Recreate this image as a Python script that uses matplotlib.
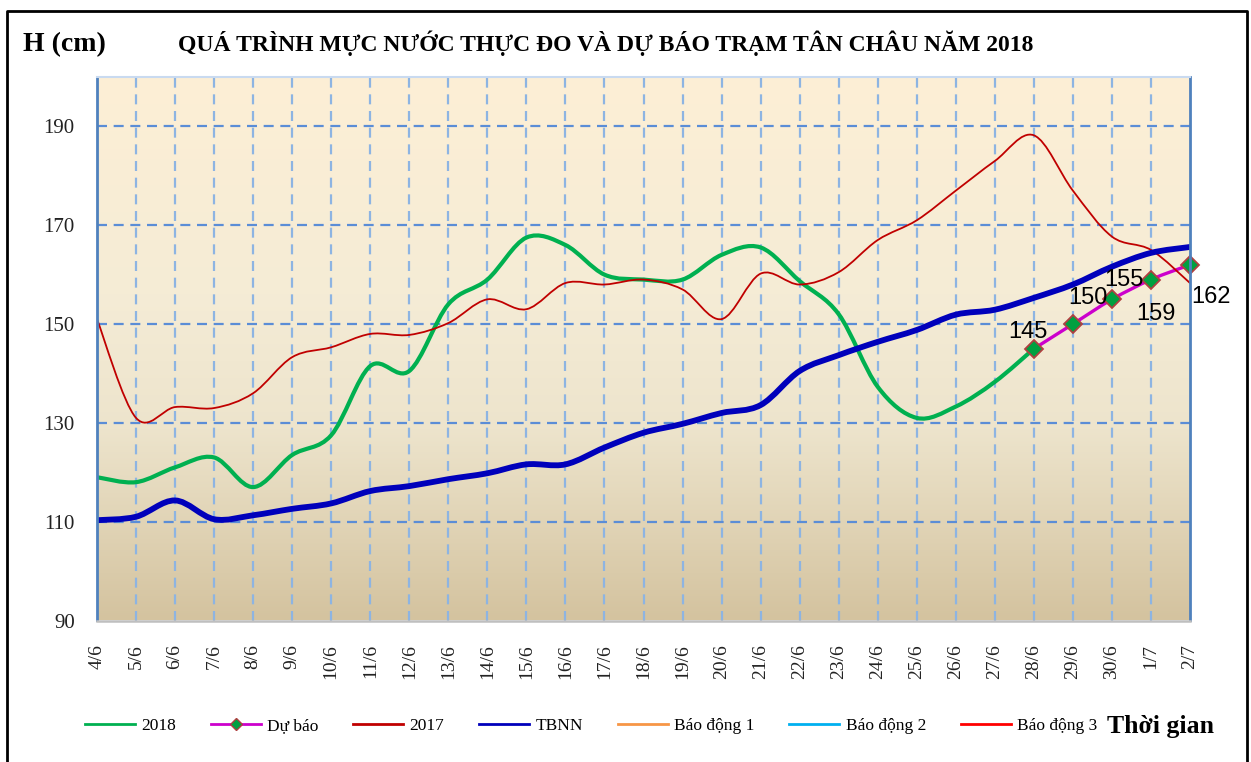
"""Water level at Tan Chau station, 2018: observed, forecast, 2017 and long-term mean."""
import numpy as np
import matplotlib.pyplot as plt
from matplotlib.lines import Line2D
from matplotlib.path import Path
from matplotlib.patches import PathPatch
from matplotlib.colors import LinearSegmentedColormap

dates = ["4/6", "5/6", "6/6", "7/6", "8/6", "9/6", "10/6", "11/6", "12/6", "13/6",
         "14/6", "15/6", "16/6", "17/6", "18/6", "19/6", "20/6", "21/6", "22/6",
         "23/6", "24/6", "25/6", "26/6", "27/6", "28/6", "29/6", "30/6", "1/7", "2/7"]

# observed 2018 runs from 4/6 to 28/6
h2018 = [119, 118, 121, 123, 117, 123.5, 127.5, 141.5, 140.5, 154, 159, 167.5, 166,
         160, 159, 159, 164, 165.5, 158.7, 152, 137.3, 131, 133.3, 138.3, 145]
# forecast from 28/6 to 2/7
forecast = [145, 150, 155, 159, 162]
h2017 = [151, 131, 133.2, 133, 136, 143.3, 145.3, 148, 147.8, 150.2, 155, 153, 158.3,
         158, 159, 157, 151, 160.2, 158, 160.5, 167, 171, 177, 183, 188.2, 177, 167.7,
         165, 158.3]
tbnn = [110.3, 111, 114.3, 110.5, 111.3, 112.6, 113.7, 116.2, 117.2, 118.6, 119.8,
        121.6, 121.6, 125, 128, 129.8, 132, 133.6, 140.5, 143.7, 146.4, 148.8, 151.9,
        152.9, 155.3, 158, 161.6, 164.4, 165.6]
yticks = [90, 110, 130, 150, 170, 190]

SERIF = "Liberation Serif"


def smooth_path(x, y):
    """Excel-style smoothed line: cubic Bezier through every point."""
    pts = np.column_stack([x, y]).astype(float)
    n = len(pts)
    verts = [pts[0]]
    codes = [Path.MOVETO]
    for i in range(n - 1):
        p0 = pts[i - 1] if i > 0 else pts[i]
        p1, p2 = pts[i], pts[i + 1]
        p3 = pts[i + 2] if i + 2 < n else pts[i + 1]
        c1 = p1 + (p2 - p0) / 6.0
        c2 = p2 - (p3 - p1) / 6.0
        verts += [c1, c2, p2]
        codes += [Path.CURVE4] * 3
    return Path(verts, codes)


def smooth_line(ax, x, y, color, lw, z):
    ax.add_patch(PathPatch(smooth_path(x, y), facecolor="none", edgecolor=color,
                           lw=lw, capstyle="round", joinstyle="round", zorder=z))


fig = plt.figure(figsize=(12.51, 7.62), dpi=100)
ax = fig.add_axes([97 / 1251, 1 - 620.5 / 762, (1190 - 97) / 1251, (620.5 - 77) / 762])

n = len(dates)
x_all = np.arange(n)
ax.set_xlim(0, n - 1)
ax.set_ylim(90, 200)

# gradient background
grad = LinearSegmentedColormap.from_list(
    "bg", [(0, "#D4C39F"), (0.35, "#EDE4CC"), (0.6, "#F5ECD6"), (1, "#FDEFD5")])
ax.imshow(np.linspace(0, 1, 256).reshape(-1, 1), cmap=grad, origin="lower",
          extent=[0, n - 1, 90, 200], aspect="auto", zorder=0)

for v in yticks[1:]:
    ax.axhline(v, color="#5B8DD6", lw=1.6, dashes=(4.5, 3), zorder=1)
for i in x_all[1:-1]:
    ax.axvline(i, color="#8DB4E2", lw=1.6, dashes=(4.5, 3), zorder=1)

smooth_line(ax, x_all[:len(h2018)], h2018, "#00B050", 3.0, 3)
fx = x_all[len(h2018) - 1:]
smooth_line(ax, fx, forecast, "#CC00CC", 2.4, 4)
smooth_line(ax, x_all, h2017, "#C00000", 1.3, 5)
smooth_line(ax, x_all, tbnn, "#0000BB", 4.2, 6)
ax.plot(fx, forecast, ls="none", marker="D", ms=9, mfc="#00A040", mec="#B04040",
        mew=1.3, zorder=7, clip_on=False)

label_offsets = [(-6, 17), (15, 26), (12, 19), (5, -34), (21, -32)]
for xi, v, off in zip(fx, forecast, label_offsets):
    ax.annotate(f"{v:g}", (xi, v), xytext=off, textcoords="offset pixels",
                ha="center", va="center", fontsize=17, family="Liberation Sans",
                color="black", zorder=8, annotation_clip=False)

ax.set_xticks(x_all)
ax.set_xticklabels(dates, rotation=90, family=SERIF, fontsize=14, color="#222222")
ax.set_yticks(yticks)
ax.set_yticklabels([str(v) for v in yticks], family=SERIF, fontsize=15, color="#222222")
ax.tick_params(axis="both", length=0)
ax.tick_params(axis="x", pad=17)
ax.tick_params(axis="y", pad=16)

for side, c, w in [("left", "#4F81BD", 2.0), ("right", "#4F81BD", 2.0),
                   ("top", "#C9DAF0", 1.5), ("bottom", "#BFBFBF", 1.8)]:
    ax.spines[side].set_color(c)
    ax.spines[side].set_linewidth(w)
    ax.spines[side].set_zorder(9)

fig.text(64 / 1251, 1 - 45 / 762, "H (cm)", family=SERIF, fontweight="bold",
         fontsize=20, ha="center", va="center")
fig.text(606 / 1251, 1 - 43 / 762,
         "QUÁ TRÌNH MỰC NƯỚC THỰC ĐO VÀ DỰ BÁO TRẠM TÂN CHÂU NĂM 2018",
         family=SERIF, fontweight="bold", fontsize=17, ha="center", va="center")

handles = [
    Line2D([], [], color="#00B050", lw=2),
    Line2D([], [], color="#CC00CC", lw=2, marker="D", ms=6, mfc="#00A040", mec="#B04040"),
    Line2D([], [], color="#C00000", lw=2),
    Line2D([], [], color="#0000BB", lw=2),
    Line2D([], [], color="#F79646", lw=2),
    Line2D([], [], color="#00B0F0", lw=2),
    Line2D([], [], color="#FF0000", lw=2),
]
labels = ["2018", "Dự báo", "2017", "TBNN", "Báo động 1", "Báo động 2", "Báo động 3"]
fig.legend(handles, labels, ncol=7, loc="center", bbox_to_anchor=(591 / 1251, 1 - 726 / 762),
           frameon=False, prop={"family": SERIF, "size": 12.5}, handlelength=2.9,
           handletextpad=0.35, columnspacing=2.0, borderaxespad=0)
fig.text(1107 / 1251, 1 - 726 / 762, "Thời gian", family=SERIF, fontweight="bold",
         fontsize=18.5, ha="left", va="center")

# outer frame (open at the bottom like the source picture)
frame = Line2D([7 / 1251, 7 / 1251, 1247 / 1251, 1247 / 1251],
               [-0.01, 1 - 11 / 762, 1 - 11 / 762, -0.01],
               transform=fig.transFigure, color="black", lw=2)
fig.add_artist(frame)

fig.savefig("out.png", dpi=100)
